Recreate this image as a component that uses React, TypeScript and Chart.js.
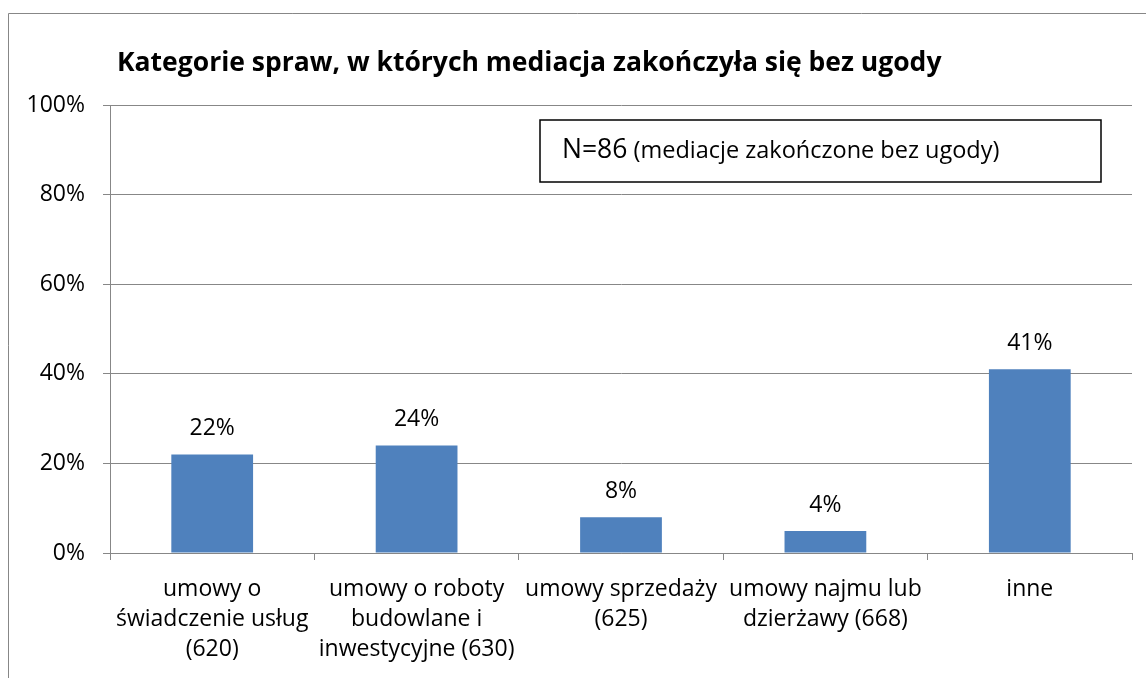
import React, { useEffect, useRef } from "react";
import { Chart, registerables } from "chart.js";

Chart.register(...registerables);

const TITLE = "Kategorie spraw, w których mediacja zakończyła się bez ugody";
const CATEGORIES: string[][] = [
  ["umowy o", "świadczenie usług", "(620)"],
  ["umowy o roboty", "budowlane i", "inwestycyjne (630)"],
  ["umowy sprzedaży", "(625)"],
  ["umowy najmu lub", "dzierżawy (668)"],
  ["inne"],
];
const VALUES = [22, 24, 8, 4.9, 41];
const VALUE_LABELS = ["22%", "24%", "8%", "4%", "41%"];
const Y_MIN = 0;
const Y_MAX = 100;
const Y_STEP = 20;
const NOTE_N = "N=86";
const NOTE_TEXT = " (mediacje zakończone bez ugody)";

const FONT = "'Open Sans', Lato, sans-serif";
const GRID = "#878787";
const BAR = "#4F81BD";
const LABEL_SIZE = 23;

const decorPlugin = {
  id: "decor",
  afterDraw(chart: any) {
    const ctx = chart.ctx;
    ctx.save();
    // outer frame
    ctx.strokeStyle = GRID;
    ctx.lineWidth = 1;
    ctx.beginPath();
    ctx.moveTo(8.5, 678);
    ctx.lineTo(8.5, 13.5);
    ctx.lineTo(1146, 13.5);
    ctx.stroke();
    // title
    ctx.fillStyle = "#000";
    ctx.font = `bold 26.5px ${FONT}`;
    ctx.textAlign = "left";
    ctx.textBaseline = "alphabetic";
    ctx.fillText(TITLE, 117, 70.5);
    // note box
    ctx.fillStyle = "#fff";
    ctx.fillRect(540, 120, 561, 62);
    ctx.strokeStyle = "#000";
    ctx.lineWidth = 1.5;
    ctx.strokeRect(540, 120, 561, 62);
    ctx.fillStyle = "#000";
    ctx.font = `26.5px ${FONT}`;
    ctx.fillText(NOTE_N, 562, 158);
    const w = ctx.measureText(NOTE_N).width;
    ctx.font = `23.5px ${FONT}`;
    ctx.fillText(NOTE_TEXT, 562 + w, 158);
    // value labels
    const meta = chart.getDatasetMeta(0);
    ctx.font = `${LABEL_SIZE}px ${FONT}`;
    ctx.textAlign = "center";
    meta.data.forEach((bar: any, i: number) => {
      ctx.fillText(VALUE_LABELS[i], bar.x, bar.y - 19);
    });
    ctx.restore();
  },
};

export default function App() {
  const ref = useRef<HTMLCanvasElement | null>(null);
  useEffect(() => {
    if (!ref.current) return;
    const chart = new Chart(ref.current, {
      type: "bar",
      data: {
        labels: CATEGORIES,
        datasets: [
          {
            data: VALUES,
            backgroundColor: BAR,
            borderWidth: 0,
            barPercentage: 0.4,
            categoryPercentage: 1,
          },
        ],
      },
      options: {
        animation: false,
        responsive: false,
        devicePixelRatio: 1,
        layout: { padding: { top: 105, right: 14, left: 0, bottom: 0 } },
        plugins: {
          legend: { display: false },
          title: { display: false },
          tooltip: { enabled: false },
        },
        scales: {
          x: {
            offset: true,
            grid: {
              display: true,
              offset: true,
              drawOnChartArea: false,
              drawTicks: true,
              tickLength: 7,
              color: GRID,
            },
            border: { display: true, color: GRID },
            ticks: {
              color: "#000",
              font: { family: FONT, size: LABEL_SIZE, lineHeight: 30 / LABEL_SIZE },
              padding: 14,
              maxRotation: 0,
              minRotation: 0,
              autoSkip: false,
            },
            afterFit: (s: any) => {
              s.height = 125;
            },
          },
          y: {
            min: Y_MIN,
            max: Y_MAX,
            grid: {
              color: GRID,
              drawTicks: true,
              tickLength: 7,
            },
            border: { display: true, color: GRID },
            ticks: {
              stepSize: Y_STEP,
              color: "#000",
              font: { family: FONT, size: LABEL_SIZE },
              padding: 18,
              callback: (v: any) => `${v}%`,
            },
            afterFit: (s: any) => {
              s.width = 110;
            },
          },
        },
      },
      plugins: [decorPlugin],
    });
    return () => chart.destroy();
  }, []);
  return (
    <div style={{ position: "absolute", left: 0, top: 0, width: 1146, height: 678, background: "#fff" }}>
      <canvas ref={ref} width={1146} height={678} style={{ display: "block" }} />
    </div>
  );
}
